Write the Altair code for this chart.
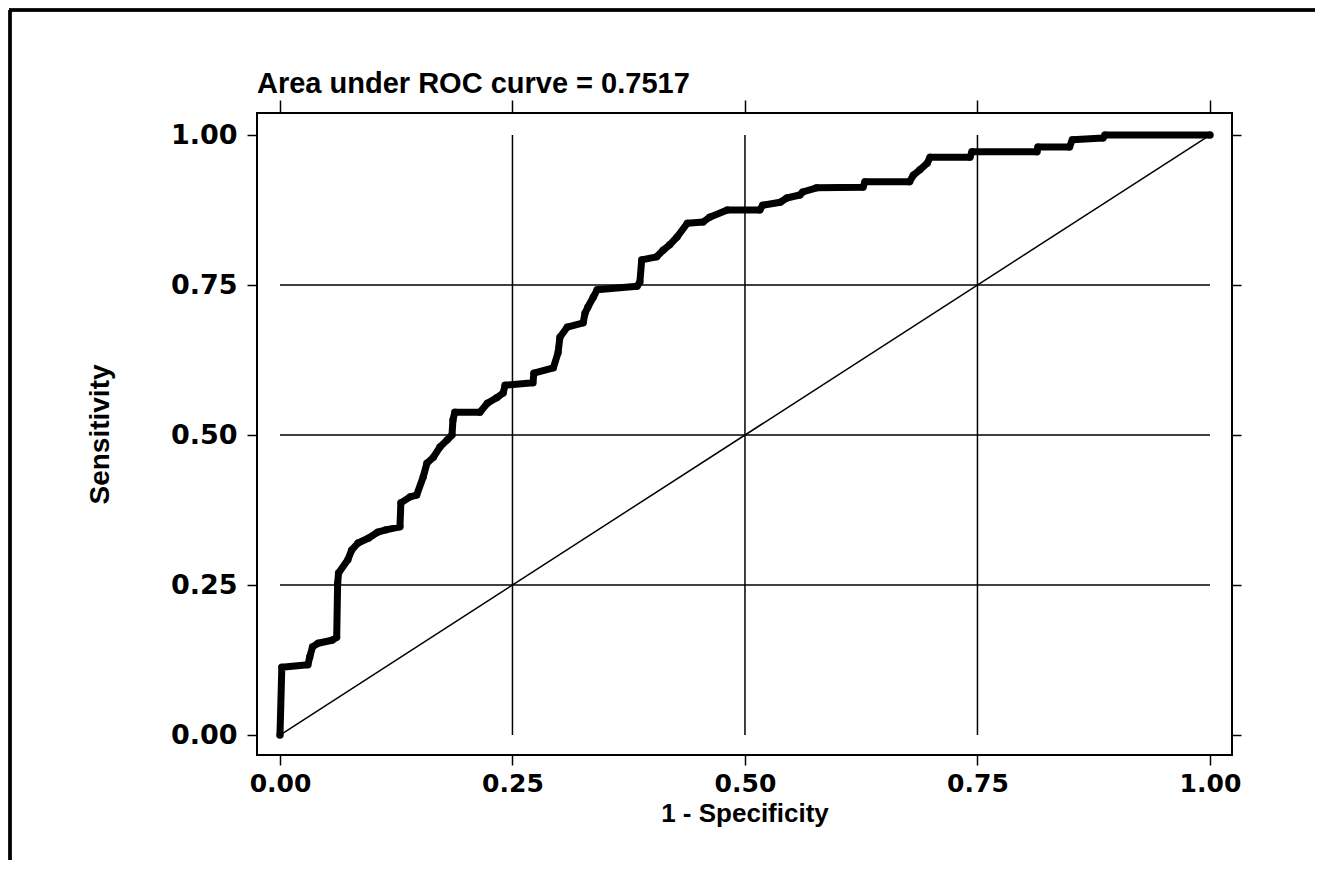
import altair as alt
import pandas as pd

# ROC curve vertices (1 - specificity, sensitivity)
fpr = [0.000, 0.002, 0.030, 0.032, 0.035, 0.041, 0.056, 0.061, 0.062, 0.063,
       0.073, 0.077, 0.084, 0.095, 0.105, 0.114, 0.129, 0.130, 0.140, 0.147,
       0.154, 0.158, 0.165, 0.172, 0.180, 0.185, 0.186, 0.188, 0.215, 0.223,
       0.233, 0.240, 0.242, 0.272, 0.273, 0.294, 0.299, 0.301, 0.309, 0.326,
       0.328, 0.331, 0.337, 0.341, 0.384, 0.387, 0.389, 0.405, 0.412, 0.419,
       0.427, 0.438, 0.455, 0.462, 0.481, 0.516, 0.519, 0.538, 0.545, 0.559,
       0.562, 0.577, 0.627, 0.629, 0.677, 0.681, 0.688, 0.696, 0.699, 0.742,
       0.744, 0.814, 0.815, 0.849, 0.852, 0.885, 0.887, 1.000]
tpr = [0.000, 0.113, 0.117, 0.130, 0.147, 0.153, 0.158, 0.163, 0.253, 0.270,
       0.292, 0.308, 0.320, 0.328, 0.338, 0.342, 0.347, 0.387, 0.397, 0.400,
       0.430, 0.453, 0.463, 0.480, 0.492, 0.500, 0.525, 0.538, 0.538, 0.553,
       0.562, 0.570, 0.583, 0.587, 0.603, 0.612, 0.637, 0.663, 0.680, 0.687,
       0.703, 0.713, 0.730, 0.742, 0.748, 0.755, 0.792, 0.797, 0.808, 0.817,
       0.830, 0.853, 0.855, 0.863, 0.875, 0.875, 0.883, 0.888, 0.895, 0.900,
       0.905, 0.912, 0.913, 0.922, 0.922, 0.933, 0.942, 0.953, 0.963, 0.963,
       0.972, 0.972, 0.980, 0.980, 0.992, 0.995, 1.000, 1.000]

diag_x = [0.0, 1.0]
diag_y = [0.0, 1.0]
grid_vals = [0.25, 0.50, 0.75]
tick_vals = [0.0, 0.25, 0.50, 0.75, 1.0]
title_text = ["Area under ROC curve = 0.7517"]
x_title = "1 - Specificity"
y_title = "Sensitivity"

roc = pd.DataFrame({"fpr": fpr, "tpr": tpr, "order": list(range(len(fpr)))})
diag = pd.DataFrame({"fpr": diag_x, "tpr": diag_y})
grid = pd.DataFrame({"g": grid_vals})
ttl = pd.DataFrame({"t": title_text})

xs = alt.Scale(domain=[-0.0247, 1.0237], nice=False, zero=False)
ys = alt.Scale(domain=[-0.0333, 1.0367], nice=False, zero=False)

x_axis = alt.Axis(values=tick_vals, format=".2f", tickSize=10, tickWidth=1.5,
                  tickColor="black", domain=False, grid=False,
                  labelFont="DejaVu Sans", labelFontWeight="bold",
                  labelFontSize=25, labelColor="black",
                  labelPadding=6, labelFlush=False,
                  titleFont="Liberation Sans", titleFontSize=26,
                  titleFontWeight="bold", titleColor="black", titlePadding=4)
y_axis = alt.Axis(values=tick_vals, format=".2f", tickSize=10, tickWidth=1.5,
                  tickColor="black", domain=False, grid=False,
                  labelFont="DejaVu Sans", labelFontWeight="bold",
                  labelFontSize=27, labelColor="black", labelPadding=10,
                  labelFlush=False,
                  titleFont="Liberation Sans", titleFontSize=28,
                  titleFontWeight="bold", titleColor="black", titlePadding=56)
top_axis = alt.Axis(orient="top", values=tick_vals, tickSize=13, tickWidth=1.5,
                    tickColor="black", domain=False, grid=False, labels=False)
right_axis = alt.Axis(orient="right", values=tick_vals, tickSize=9, tickWidth=1.5,
                      tickColor="black", domain=False, grid=False, labels=False)

hgrid = alt.Chart(grid).mark_rule(color="black", strokeWidth=1.5).encode(
    y=alt.Y("g:Q", scale=ys, axis=None),
    x=alt.X(datum=0, scale=xs, axis=None),
    x2=alt.X2(datum=1),
)
vgrid = alt.Chart(grid).mark_rule(color="black", strokeWidth=1.5).encode(
    x=alt.X("g:Q", scale=xs, axis=None),
    y=alt.Y(datum=0, scale=ys, axis=None),
    y2=alt.Y2(datum=1),
)
diag_line = alt.Chart(diag).mark_line(color="black", strokeWidth=1.5).encode(
    x=alt.X("fpr:Q", scale=xs, axis=top_axis, title=None),
    y=alt.Y("tpr:Q", scale=ys, axis=right_axis, title=None),
)
roc_line = alt.Chart(roc).mark_line(color="black", strokeWidth=7,
                                     strokeJoin="round", strokeCap="round").encode(
    x=alt.X("fpr:Q", scale=xs, axis=x_axis, title=x_title),
    y=alt.Y("tpr:Q", scale=ys, axis=y_axis, title=y_title),
    order="order:Q",
)
roc_pts = alt.Chart(roc).mark_point(shape="circle", filled=False, color="black",
                                    size=30, strokeWidth=2).encode(
    x=alt.X("fpr:Q", scale=xs, axis=None),
    y=alt.Y("tpr:Q", scale=ys, axis=None),
)

title_mark = alt.Chart(ttl).mark_text(
    align="left", baseline="alphabetic", font="Liberation Sans",
    fontSize=29, fontWeight="bold", color="black"
).encode(text="t:N", x=alt.value(0), y=alt.value(-20))

# scanned-page border (decoration)
top_border = alt.Chart(grid).mark_rule(color="black", strokeWidth=3).encode(
    x=alt.value(-248), x2=alt.value(1058), y=alt.value(-103))
left_border = alt.Chart(grid).mark_rule(color="black", strokeWidth=3).encode(
    x=alt.value(-247), y=alt.value(-103), y2=alt.value(747))

chart = alt.layer(
    hgrid, vgrid, diag_line, roc_line, roc_pts, title_mark, top_border, left_border
).resolve_axis(x="independent", y="independent").properties(
    width=975, height=642,
    autosize=alt.AutoSizeParams(type="none"),
    padding={"left": 249, "top": 105, "right": 83, "bottom": 105},
).configure(
    background="white",
    view=alt.ViewConfig(stroke="black", strokeWidth=2),
)

chart.save("out.html", embed_options={"renderer": "svg", "actions": False})
